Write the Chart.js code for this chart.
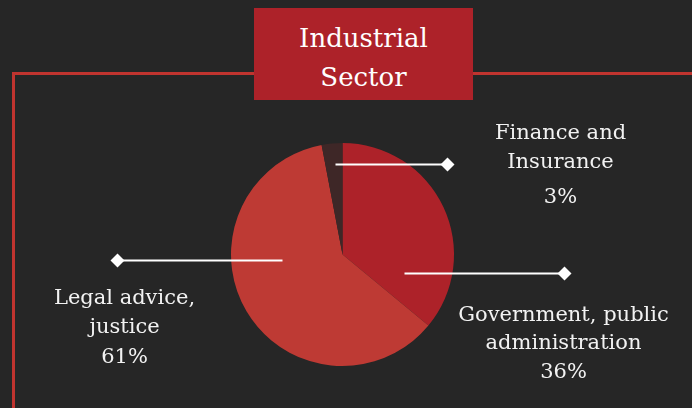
<!DOCTYPE html>
<html>
<head>
<meta charset="utf-8">
<script src="https://cdn.jsdelivr.net/npm/chart.js@4"></script>
<style>
  html, body { margin: 0; padding: 0; background: #262626; }
  #wrap { position: relative; width: 692px; height: 408px; overflow: hidden; }
  #frame { position: absolute; left: 12px; top: 72px; right: -10px; bottom: -10px;
           border-top: 3px solid #c0342f; border-left: 3px solid #c0342f; }
  #title { position: absolute; left: 254px; top: 8px; width: 219px; height: 92px;
           background: #ad2229; color: #fff; text-align: center;
           font-family: "DejaVu Serif", serif; font-size: 26px; line-height: 39px;
           padding-top: 11px; box-sizing: border-box; }
  #sectorPie { position: absolute; left: 0; top: 0; }
</style>
</head>
<body>
<div id="wrap">
  <div id="frame"></div>
  <div id="title">Industrial<br>Sector</div>
  <canvas id="sectorPie" width="692" height="408"></canvas>
</div>
<script>
// sectors, clockwise from 12 o'clock
const sectors = ["Government, public administration", "Legal advice, justice", "Finance and Insurance"];
const shares = [36, 61, 3];
const sliceColors = ["#ad2229", "#be3a34", "#3e2727"];

// callout text per sector (line breaks as in the picture)
const calloutLines = [
    ["Government, public", "administration", "36%"],
    ["Legal advice,", "justice", "61%"],
    ["Finance and", "Insurance", "3%"],
];

// leader line + text placement, relative to pie centre
const calloutLayout = [
    { x0: 62, x1: 222, y: 18, tx: 221, ty: [61, 89, 118] },
    { x0: -60, x1: -225, y: 5, tx: -218, ty: [44, 73, 103] },
    { x0: -7, x1: 105, y: -91, tx: 218, ty: [-121, -92, -57] },
];

const calloutPlugin = {
    id: "callouts",
    afterDatasetsDraw(chart) {
        const ctx = chart.ctx;
        const arc = chart.getDatasetMeta(0).data[0];
        const cx = arc.x, cy = arc.y;
        ctx.save();
        calloutLayout.forEach((c, i) => {
            const y = Math.round(cy + c.y) + 0.5;
            ctx.strokeStyle = "#ffffff";
            ctx.lineWidth = 2;
            ctx.beginPath();
            ctx.moveTo(cx + c.x0, y);
            ctx.lineTo(cx + c.x1, y);
            ctx.stroke();
            // diamond end
            const dx = cx + c.x1;
            ctx.fillStyle = "#ffffff";
            ctx.beginPath();
            ctx.moveTo(dx, y - 7);
            ctx.lineTo(dx + 7, y);
            ctx.lineTo(dx, y + 7);
            ctx.lineTo(dx - 7, y);
            ctx.closePath();
            ctx.fill();
            // text
            ctx.font = '21px "DejaVu Serif", serif';
            ctx.textAlign = "center";
            ctx.textBaseline = "middle";
            ctx.fillStyle = "#f2f2f2";
            calloutLines[i].forEach((t, k) => {
                ctx.fillText(t, cx + c.tx, cy + c.ty[k]);
            });
        });
        ctx.restore();
    }
};

const chart = new Chart(document.getElementById("sectorPie"), {
    type: "pie",
    data: {
        labels: sectors,
        datasets: [{
            data: shares,
            backgroundColor: sliceColors,
            borderWidth: 0,
            hoverOffset: 0,
        }],
    },
    options: {
        responsive: false,
        animation: false,
        events: [],
        layout: { padding: { top: 143, bottom: 42, left: 0, right: 7 } },
        plugins: {
            legend: { display: false },
            tooltip: { enabled: false },
            title: { display: false },
        },
    },
    plugins: [calloutPlugin],
});
</script>
</body>
</html>
